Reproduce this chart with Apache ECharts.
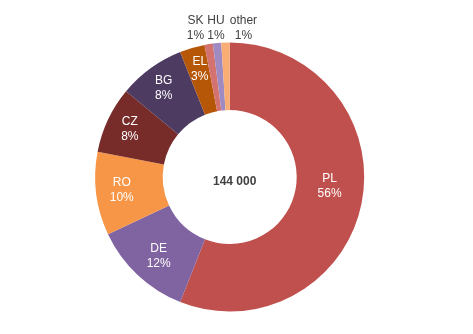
<!DOCTYPE html>
<html>
<head>
<meta charset="utf-8">
<script src="https://cdn.jsdelivr.net/npm/echarts@6/dist/echarts.min.js"></script>
<style>
  html, body { margin: 0; padding: 0; background: #fff; }
  #chart { width: 473px; height: 334px; }
</style>
</head>
<body>
<div id="chart"></div>
<script>
// Country shares (percent), clockwise from 12 o'clock
const countries = ['PL', 'DE', 'RO', 'CZ', 'BG', 'EL', 'SK', 'HU', 'other'];
const shares = [56, 12, 10, 8, 8, 3, 1, 1, 1];
const totalLabel = '144 000';

const colors = ['#c0504d', '#8064a2', '#f79646', '#772c2a', '#4e3b62',
                '#b65708', '#d4726f', '#9f8bc2', '#f9ac74'];

// Nudges for the in-ring labels
const innerOffsets = { PL: [-2, -10], DE: [0, 4], RO: [-5, 0], CZ: [-6, -4], BG: [-5, -5], EL: [-1, -8] };
// The three thinnest slices carry their labels above the ring
const outerOffsets = { SK: [-18, -46], HU: [-4, -46], other: [17, -45] };

const cx = 229.7, cy = 177;

const data = countries.map((name, i) => {
  const item = { name: name, value: shares[i], itemStyle: { color: colors[i] } };
  if (outerOffsets[name]) {
    item.label = { color: '#404040', offset: outerOffsets[name] };
  } else if (innerOffsets[name]) {
    item.label = { offset: innerOffsets[name] };
  }
  return item;
});

const chart = echarts.init(document.getElementById('chart'), null, { renderer: 'canvas' });
chart.setOption({
  animation: false,
  title: {
    text: totalLabel,
    left: cx,
    top: cy,
    textAlign: 'center',
    textVerticalAlign: 'middle',
    textStyle: { fontFamily: 'Liberation Sans, Arial, sans-serif', fontSize: 12, fontWeight: 'bold', color: '#404040' }
  },
  series: [{
    type: 'pie',
    center: [cx, cy],
    radius: [67, 134.5],
    startAngle: 90,
    clockwise: true,
    avoidLabelOverlap: false,
    silent: true,
    itemStyle: { borderWidth: 0 },
    label: {
      show: true,
      position: 'inside',
      formatter: '{b}\n{c}%',
      color: '#ffffff',
      fontFamily: 'Liberation Sans, Arial, sans-serif',
      fontSize: 12,
      lineHeight: 15,
      align: 'center'
    },
    labelLine: { show: false },
    data: data
  }]
});
</script>
</body>
</html>
